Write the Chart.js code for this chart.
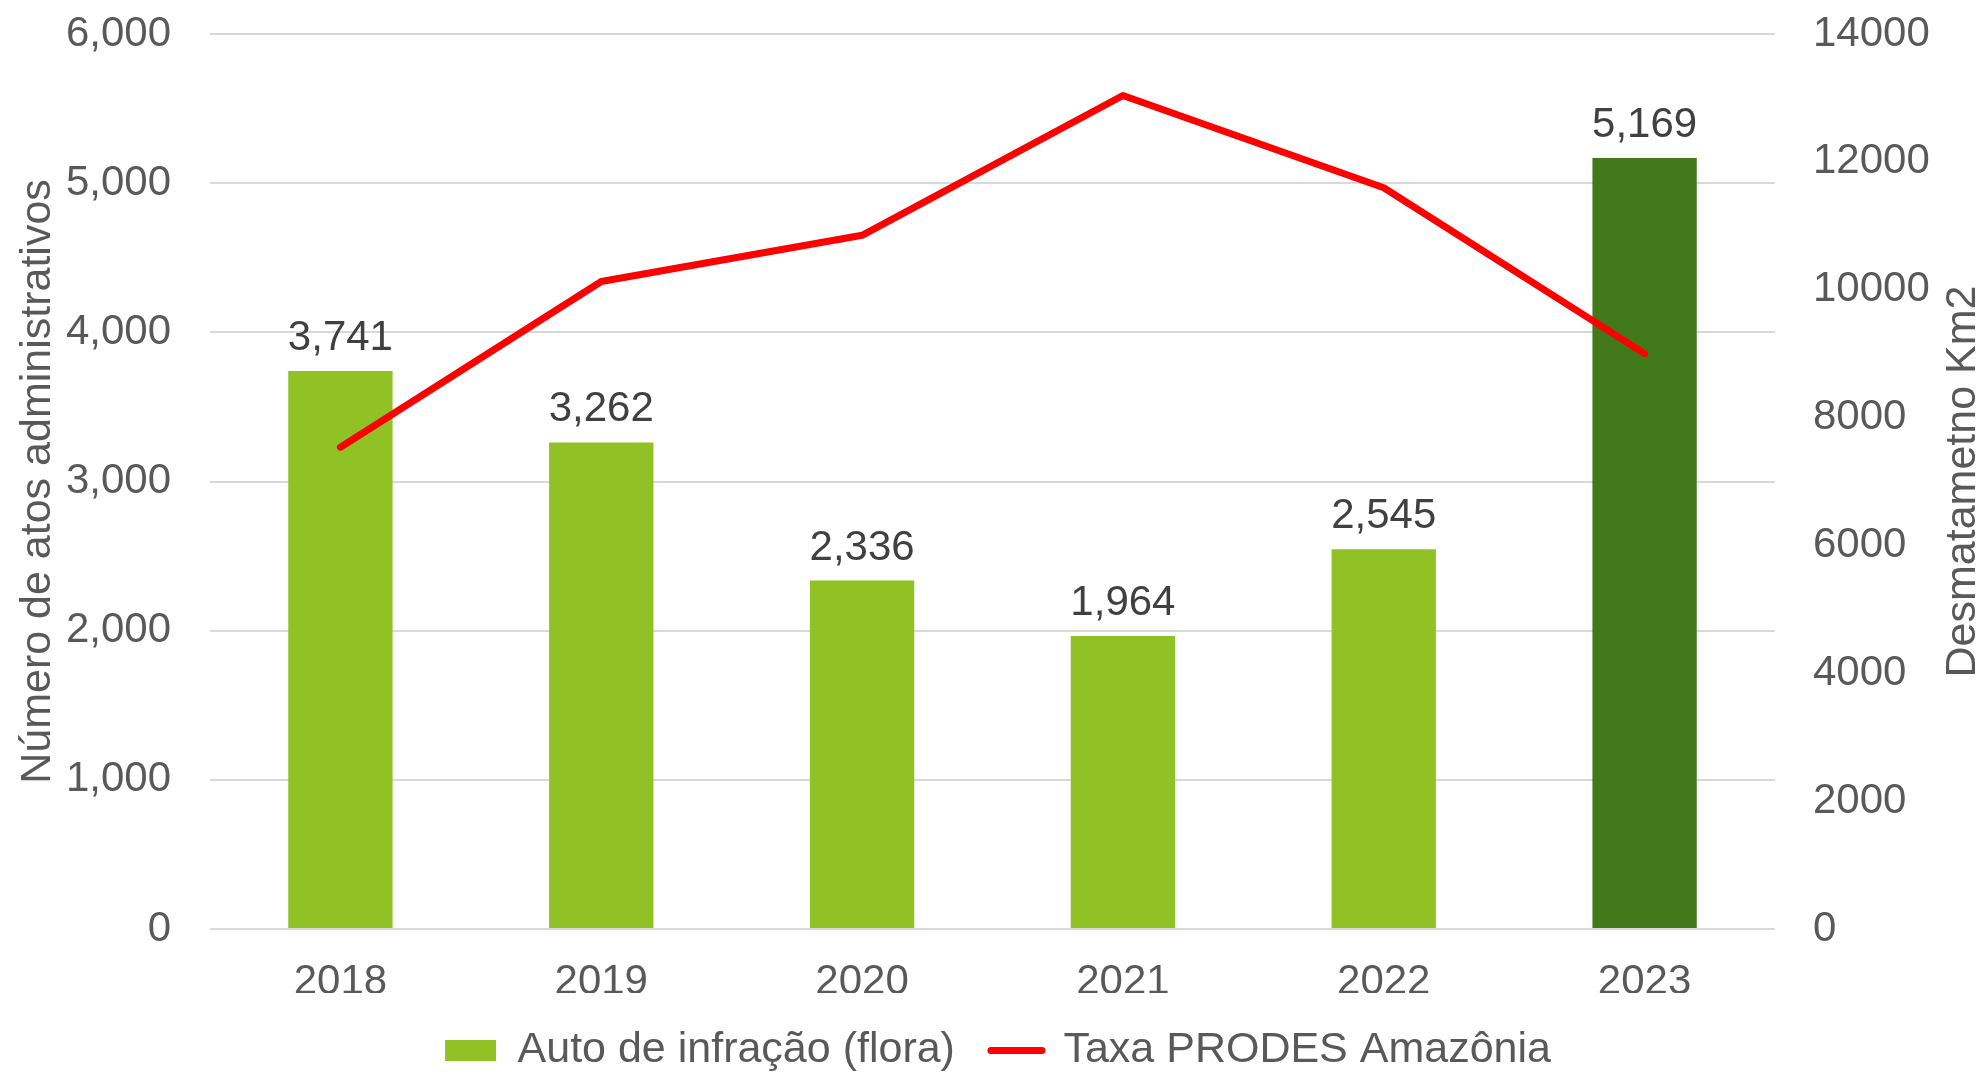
<!DOCTYPE html>
<html>
<head>
<meta charset="utf-8">
<script src="https://cdn.jsdelivr.net/npm/chart.js@4"></script>
<style>
  html, body { margin: 0; padding: 0; background: #fff; }
  #wrap { width: 1988px; height: 1072px; }
</style>
</head>
<body>
<div id="wrap"><canvas id="chart" width="1988" height="1072"></canvas></div>
<script>
// Data
const years = ['2018', '2019', '2020', '2021', '2022', '2023'];
const autosFlora = [3741, 3262, 2336, 1964, 2545, 5169];
const prodesKm2 = [7536, 10129, 10851, 13038, 11594, 9001];
const barColors = ['#90C226', '#90C226', '#90C226', '#90C226', '#90C226', '#41781A'];

const FONT = "'Liberation Sans', Arial, sans-serif";
const GRAY = '#595959';

// Value labels above the bars
const barLabels = {
    id: 'barLabels',
    afterDatasetsDraw(chart) {
        const ctx = chart.ctx;
        const meta = chart.getDatasetMeta(0);
        ctx.save();
        ctx.font = '42px ' + FONT;
        ctx.fillStyle = '#404040';
        ctx.textAlign = 'center';
        ctx.textBaseline = 'alphabetic';
        meta.data.forEach((bar, i) => {
            ctx.fillText(autosFlora[i].toLocaleString('en-US'), bar.x, bar.y - 21);
        });
        ctx.restore();
    }
};

// Right axis title reads bottom-to-top, like the left one
const rightTitle = {
    id: 'rightTitle',
    afterDraw(chart) {
        const ctx = chart.ctx;
        const s = chart.scales.y1;
        const area = chart.chartArea;
        ctx.save();
        ctx.translate(s.right - 25, (area.top + area.bottom) / 2);
        ctx.rotate(-Math.PI / 2);
        ctx.font = '43px ' + FONT;
        ctx.fillStyle = GRAY;
        ctx.textAlign = 'center';
        ctx.textBaseline = 'middle';
        ctx.fillText('Desmatametno Km2', 0, 0);
        ctx.restore();
    }
};

const defaultLabels = Chart.defaults.plugins.legend.labels.generateLabels;

// fixed axis widths; the tick padding should not push the plot top down
function fitSide(width) {
    return scale => {
        scale.width = width;
        scale.paddingTop = 0;
        scale.paddingBottom = 0;
    };
}

new Chart(document.getElementById('chart').getContext('2d'), {
    type: 'bar',
    data: {
        labels: years,
        datasets: [{
            label: 'Auto de infração (flora)',
            data: autosFlora,
            backgroundColor: barColors,
            borderWidth: 0,
            barPercentage: 0.4,
            categoryPercentage: 1,
            yAxisID: 'y',
            order: 1
        }, {
            type: 'line',
            label: 'Taxa PRODES Amazônia',
            data: prodesKm2,
            borderColor: '#FF0000',
            backgroundColor: '#FF0000',
            borderWidth: 7,
            borderCapStyle: 'round',
            borderJoinStyle: 'round',
            pointRadius: 0,
            tension: 0,
            yAxisID: 'y1',
            order: 0
        }]
    },
    options: {
        responsive: false,
        animation: false,
        layout: { padding: { left: 8, right: 0, top: 34, bottom: -10 } },
        scales: {
            x: {
                grid: { display: false },
                border: { display: false },
                ticks: { color: GRAY, font: { family: FONT, size: 42 }, padding: 20 },
                afterFit: scale => { scale.height = 64; }
            },
            y: {
                position: 'left',
                min: 0, max: 6000,
                ticks: {
                    stepSize: 1000, color: GRAY, padding: 39,
                    font: { family: FONT, size: 42 },
                    callback: v => v.toLocaleString('en-US')
                },
                grid: { color: '#D9D9D9', lineWidth: 2, drawTicks: false },
                border: { display: false },
                title: {
                    display: true, text: 'Número de atos administrativos',
                    color: GRAY, font: { family: FONT, size: 43 }, padding: { top: 4, bottom: 4 }
                },
                afterFit: fitSide(202)
            },
            y1: {
                position: 'right',
                min: 0, max: 14000,
                ticks: {
                    stepSize: 2000, color: GRAY, padding: 38,
                    font: { family: FONT, size: 42 },
                    callback: v => String(v)
                },
                grid: { drawOnChartArea: false, drawTicks: false },
                border: { display: false },
                afterFit: fitSide(213)
            }
        },
        plugins: {
            legend: {
                position: 'bottom',
                labels: {
                    color: GRAY,
                    font: { family: FONT, size: 43 },
                    usePointStyle: true,
                    pointStyleWidth: 51,
                    boxHeight: 21,
                    padding: 36,
                    sort: (a, b) => a.datasetIndex - b.datasetIndex,
                    generateLabels: chart => {
                        const items = defaultLabels(chart);
                        items.forEach(item => {
                            if (item.datasetIndex === 0) {
                                item.pointStyle = 'rect';
                                item.lineWidth = 0;
                            } else {
                                item.pointStyle = 'line';
                                item.lineWidth = 7;
                                item.strokeStyle = '#FF0000';
                                item.lineCap = 'round';
                            }
                        });
                        return items;
                    }
                }
            },
            tooltip: { enabled: false }
        }
    },
    plugins: [barLabels, rightTitle]
});
</script>
</body>
</html>
